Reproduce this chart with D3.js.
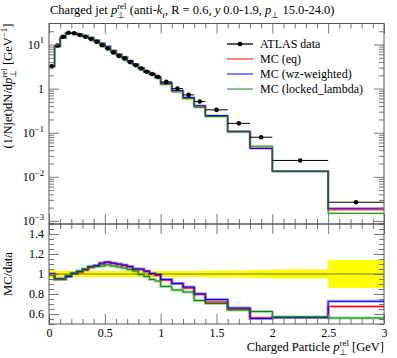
<!DOCTYPE html>
<html><head><meta charset="utf-8">
<script src="https://cdn.jsdelivr.net/npm/d3@7"></script>
<style>
body{margin:0;background:#fff;}
svg text{font-family:"Liberation Serif",serif;fill:#000;}
</style></head>
<body><svg id="c" width="397" height="358"></svg>
<script>
// ---- data ----
const binEdges = [0,0.05,0.1,0.15,0.2,0.25,0.3,0.35,0.4,0.45,0.5,0.55,0.6,0.65,0.7,0.75,0.8,0.85,0.9,0.95,1.0,1.1,1.2,1.3,1.4,1.6,1.8,2.0,2.5,3.0];
const atlasData = [3.2,9.5,15.0,18.5,18.0,16.5,15.0,13.3,11.5,9.6,8.1,6.6,5.5,4.8,4.0,3.4,2.85,2.4,2.15,1.85,1.42,1.0,0.72,0.51,0.33,0.163,0.079,0.0235,0.00265];
const dataRelErr = [0.045,0.03,0.03,0.03,0.03,0.03,0.03,0.03,0.03,0.03,0.03,0.03,0.03,0.03,0.03,0.03,0.03,0.03,0.03,0.03,0.03,0.03,0.03,0.03,0.035,0.035,0.04,0.045,0.14];
const ratioEq     = [1.0,0.95,0.95,0.975,1.005,1.02,1.04,1.065,1.08,1.10,1.115,1.105,1.095,1.085,1.07,1.05,1.045,1.025,1.0,0.985,0.94,0.905,0.86,0.80,0.72,0.65,0.56,0.565,0.675];
const ratioWz     = [1.0,0.95,0.95,0.975,1.005,1.025,1.045,1.075,1.085,1.11,1.12,1.11,1.10,1.09,1.075,1.05,1.05,1.03,1.005,0.995,0.945,0.905,0.87,0.80,0.745,0.66,0.555,0.565,0.727];
const ratioLocked = [0.99,0.945,0.95,0.985,1.01,1.03,1.05,1.07,1.075,1.08,1.09,1.08,1.07,1.06,1.045,1.03,0.995,0.975,0.945,0.93,0.875,0.84,0.82,0.735,0.705,0.64,0.625,0.57,0.56];
const seriesNames = ["ATLAS data","MC (eq)","MC (wz-weighted)","MC (locked_lambda)"];
const seriesColors = ["#000000","#ff0000","#0000ff","#008a00"];
const xMajorTicks = [0,0.5,1,1.5,2,2.5,3];
const xTickLabels = ["0","0.5","1","1.5","2","2.5","3"];
const yTopTicks = [1e-3,1e-2,1e-1,1,10];
const yTopLabels = [["10","−3"],["10","−2"],["10","−1"],["1",""],["10","1"]];
const yRatTicks = [0.6,0.8,1.0,1.2,1.4];
const yRatLabels = ["0.6","0.8","1","1.2","1.4"];

// ---- layout ----
const L=49,R=384,T=23.5,M=224,B=324;
const svg=d3.select("#c");
const x=d3.scaleLinear([0,3],[L,R]);
const yT=d3.scaleLog([8.5e-4,30],[M,T]);
const yR=d3.scaleLinear([0.5,1.5],[B,M]);
const FS=12.5, FT=12, FL=12;

function rich(sel, parts, fs){
  let shift=0, pend=0, lastW=0;
  parts.forEach(p=>{
    if(typeof p==="string") p={t:p};
    const ts=sel.append("tspan").text(p.t);
    let target=0,size=fs;
    if(p.sup){target=-fs*0.42;size=fs*0.72;}
    if(p.sub){target=fs*0.28;size=fs*0.72;}
    ts.attr("dy",target-shift); shift=target;
    ts.style("font-size",size+"px");
    if(p.it) ts.style("font-style","italic");
    let dx=pend; pend=0;
    if(p.back) dx-=lastW;
    if(dx!==0) ts.attr("dx",dx);
    const w=ts.node().getComputedTextLength();
    if(p.back) pend=Math.max(0,lastW-w);
    lastW=w;
  });
  if(shift!==0) sel.append("tspan").attr("dy",-shift).text("");
}

const mcSets=[ratioEq,ratioWz,ratioLocked].map(r=>r.map((v,i)=>v*atlasData[i]));
const ratioSets=[ratioEq,ratioWz,ratioLocked];

function stepPts(vals){
  const pts=vals.map((v,i)=>[binEdges[i],v]);
  pts.push([binEdges[binEdges.length-1],vals[vals.length-1]]);
  return pts;
}

// clip paths
const defs=svg.append("defs");
defs.append("clipPath").attr("id","cT").append("rect").attr("x",L).attr("y",T).attr("width",R-L).attr("height",M-T);
defs.append("clipPath").attr("id","cR").append("rect").attr("x",L).attr("y",M).attr("width",R-L).attr("height",B-M);

// ---- upper panel ----
const gT=svg.append("g").attr("clip-path","url(#cT)");
const lineT=d3.line().x(d=>x(d[0])).y(d=>yT(d[1])).curve(d3.curveStepAfter);
mcSets.forEach((s,k)=>{
  gT.append("path").attr("d",lineT(stepPts(s))).attr("fill","none").attr("stroke",seriesColors[k+1]).attr("stroke-width",2.5).attr("stroke-opacity",0.22);
});
mcSets.forEach((s,k)=>{
  gT.append("path").attr("d",lineT(stepPts(s))).attr("fill","none").attr("stroke",seriesColors[k+1]).attr("stroke-width",0.9);
});
atlasData.forEach((v,i)=>{
  const x0=x(binEdges[i]),x1=x(binEdges[i+1]),xc=(x0+x1)/2;
  gT.append("line").attr("x1",x0).attr("x2",x1).attr("y1",yT(v)).attr("y2",yT(v)).attr("stroke","#000").attr("stroke-width",1);
  gT.append("line").attr("x1",xc).attr("x2",xc).attr("y1",yT(v*(1-dataRelErr[i]*0.5))).attr("y2",yT(v*(1+dataRelErr[i]*0.5))).attr("stroke","#000").attr("stroke-width",1);
  gT.append("circle").attr("cx",xc).attr("cy",yT(v)).attr("r",2.3).attr("fill","#000");
});

// ---- ratio panel ----
const gR=svg.append("g").attr("clip-path","url(#cR)");
const area=d3.area().x(d=>x(d[0])).y0(d=>yR(1-d[1])).y1(d=>yR(1+d[1])).curve(d3.curveStepAfter);
gR.append("path").attr("d",area(stepPts(dataRelErr))).attr("fill","#ffff00");
gR.append("line").attr("x1",L).attr("x2",R).attr("y1",yR(1)).attr("y2",yR(1)).attr("stroke","#000").attr("stroke-opacity",0.55).attr("stroke-width",1);
const lineR=d3.line().x(d=>x(d[0])).y(d=>yR(d[1])).curve(d3.curveStepAfter);
ratioSets.forEach((s,k)=>{
  gR.append("path").attr("d",lineR(stepPts(s))).attr("fill","none").attr("stroke",seriesColors[k+1]).attr("stroke-width",3).attr("stroke-opacity",0.35);
});
ratioSets.forEach((s,k)=>{
  gR.append("path").attr("d",lineR(stepPts(s))).attr("fill","none").attr("stroke",seriesColors[k+1]).attr("stroke-width",1);
});

// ---- axes / ticks ----
const TC="#777";
function ticks(axisGen, tx, ty){
  const g=svg.append("g").attr("transform",`translate(${tx},${ty})`).call(axisGen);
  g.select(".domain").remove();
  g.selectAll("line").attr("stroke",TC);
  return g;
}
const xMinor=d3.range(0,31).map(i=>i/10).filter(v=>Math.abs(v*2-Math.round(v*2))>1e-6);
const yTopMinor=[];
[-4,-3,-2,-1,0,1].forEach(e=>{for(let m=2;m<=9;m++){const v=m*Math.pow(10,e); if(v>8.5e-4&&v<30) yTopMinor.push(v);}});
const yRatMinor=d3.range(10,31).map(i=>i*0.05).filter(v=>Math.abs(v*5-Math.round(v*5))>1e-6);

ticks(d3.axisTop(x).tickValues(xMajorTicks).tickSize(-10).tickFormat(""),0,T);
ticks(d3.axisTop(x).tickValues(xMinor).tickSize(-5).tickFormat(""),0,T);
ticks(d3.axisBottom(x).tickValues(xMajorTicks).tickSize(-10).tickFormat(""),0,M);
ticks(d3.axisBottom(x).tickValues(xMinor).tickSize(-5).tickFormat(""),0,M);
ticks(d3.axisTop(x).tickValues(xMajorTicks).tickSize(-10).tickFormat(""),0,M);
ticks(d3.axisTop(x).tickValues(xMinor).tickSize(-5).tickFormat(""),0,M);
const gxb=ticks(d3.axisBottom(x).tickValues(xMajorTicks).tickSize(-10).tickPadding(4).tickFormat((d,i)=>xTickLabels[i]),0,B);
gxb.selectAll("text").attr("font-family",null).style("font-size",FT+"px");
ticks(d3.axisBottom(x).tickValues(xMinor).tickSize(-5).tickFormat(""),0,B);
ticks(d3.axisLeft(yT).tickValues(yTopTicks).tickSize(-10).tickPadding(5).tickFormat(""),L,0);
ticks(d3.axisLeft(yT).tickValues(yTopMinor).tickSize(-5).tickFormat(""),L,0);
ticks(d3.axisRight(yT).tickValues(yTopTicks).tickSize(-10).tickFormat(""),R,0);
ticks(d3.axisRight(yT).tickValues(yTopMinor).tickSize(-5).tickFormat(""),R,0);
yTopTicks.forEach((v,i)=>{
  const t=svg.append("text").attr("x",L-5).attr("y",yT(v)+4).attr("text-anchor","end").style("font-size",FT+"px");
  const lab=yTopLabels[i];
  const parts=[lab[0]]; if(lab[1]) parts.push({t:lab[1],sup:true});
  rich(t,parts,FT);
});
const gyr=ticks(d3.axisLeft(yR).tickValues(yRatTicks).tickSize(-10).tickPadding(5).tickFormat((d,i)=>yRatLabels[i]),L,0);
gyr.selectAll("text").attr("font-family",null).style("font-size",FT+"px");
ticks(d3.axisLeft(yR).tickValues(yRatMinor).tickSize(-5).tickFormat(""),L,0);
ticks(d3.axisRight(yR).tickValues(yRatTicks).tickSize(-10).tickFormat(""),R,0);
ticks(d3.axisRight(yR).tickValues(yRatMinor).tickSize(-5).tickFormat(""),R,0);

svg.append("rect").attr("x",L).attr("y",T).attr("width",R-L).attr("height",M-T).attr("fill","none").attr("stroke","#555");
svg.append("rect").attr("x",L).attr("y",M).attr("width",R-L).attr("height",B-M).attr("fill","none").attr("stroke","#555");

// ---- legend ----
const lg=svg.append("g");
seriesNames.forEach((n,k)=>{
  const yy=44+k*15;
  lg.append("line").attr("x1",227).attr("x2",253).attr("y1",yy).attr("y2",yy).attr("stroke",seriesColors[k]).attr("stroke-width",k===0?1.3:1);
  if(k===0) lg.append("circle").attr("cx",240).attr("cy",yy).attr("r",2.3).attr("fill","#000");
  lg.append("text").attr("x",260).attr("y",yy+4).style("font-size",FL+"px").text(n);
});

// ---- titles ----
const title=svg.append("text").attr("x",50).attr("y",14).style("font-size",FS+"px");
rich(title,["Charged jet ",{t:"p",it:1},{t:"rel",sup:1},{t:"⊥",sub:1,back:1}," (anti-",{t:"k",it:1},{t:"t",sub:1,it:1},", R = 0.6, ",{t:"y",it:1}," 0.0-1.9, ",{t:"p",it:1},{t:"⊥",sub:1}," 15.0-24.0)"],FS);

const xl=svg.append("text").attr("x",R).attr("y",351).attr("text-anchor","end").style("font-size",FS+"px");
rich(xl,["Charged Particle ",{t:"p",it:1},{t:"rel",sup:1},{t:"⊥",sub:1,back:1}," [GeV]"],FS);

const yl=svg.append("text").attr("transform",`translate(12,${T}) rotate(-90)`).attr("text-anchor","end").style("font-size",FS+"px");
rich(yl,["(1/Njet)dN/d",{t:"p",it:1},{t:"rel",sup:1},{t:"⊥",sub:1,back:1}," [GeV",{t:"−1",sup:1},"]"],FS);

svg.append("text").attr("transform",`translate(12,${yR(1)}) rotate(-90)`).attr("text-anchor","middle").style("font-size",FS+"px").text("MC/data");
</script></body></html>
